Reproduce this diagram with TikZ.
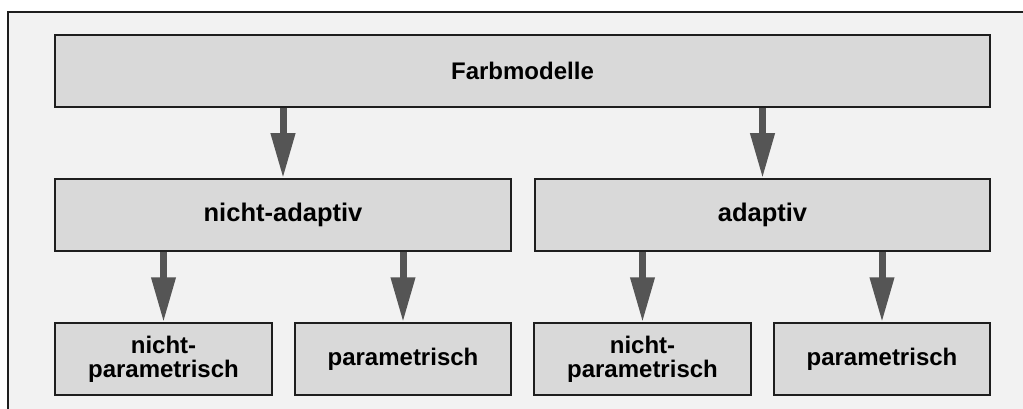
\documentclass[tikz,border=0pt]{standalone}
\usepackage{fontspec}
\setmainfont{Liberation Sans}
\usetikzlibrary{arrows.meta}
\definecolor{panel}{HTML}{F2F2F2}
\definecolor{boxfill}{HTML}{D9D9D9}
\definecolor{boxline}{HTML}{1E1E1E}
\definecolor{arrowcol}{HTML}{555555}
\tikzset{
  box/.style={draw=boxline, fill=boxfill, line width=1.5pt, minimum height=72pt, inner sep=0pt, align=center, font=\bfseries\fontsize{24}{24}\selectfont},
  midbox/.style={box, font=\bfseries\fontsize{25.5}{25.5}\selectfont},
  conn/.style={draw=arrowcol, line width=7pt, -{Triangle[length=45pt,width=23pt]}, arrowcol}
}
\begin{document}
\begin{tikzpicture}[x=1pt,y=-1pt]
\useasboundingbox (0,0) rectangle (1023,409);
\fill[panel] (8,12) rectangle (1030,415);
\draw[boxline, line width=1.5pt] (8,415) -- (8,12) -- (1030,12);
\node[box, minimum width=935pt] (top) at (522.5,71) {Farbmodelle};
\node[midbox, minimum width=456pt] (na) at (283,215) {nicht-adaptiv};
\node[midbox, minimum width=455pt] (ad) at (762.5,215) {adaptiv};
\node[box, minimum width=217pt] (c1) at (163.5,359) {nicht-\\parametrisch};
\node[box, minimum width=216pt] (c2) at (403,359) {parametrisch};
\node[box, minimum width=217pt] (c3) at (642.5,359) {nicht-\\parametrisch};
\node[box, minimum width=216pt] (c4) at (882,359) {parametrisch};
\draw[conn] (top.south -| na.north) -- (na.north);
\draw[conn] (top.south -| ad.north) -- (ad.north);
\draw[conn] (na.south -| c1.north) -- (c1.north);
\draw[conn] (na.south -| c2.north) -- (c2.north);
\draw[conn] (ad.south -| c3.north) -- (c3.north);
\draw[conn] (ad.south -| c4.north) -- (c4.north);
\end{tikzpicture}
\end{document}
